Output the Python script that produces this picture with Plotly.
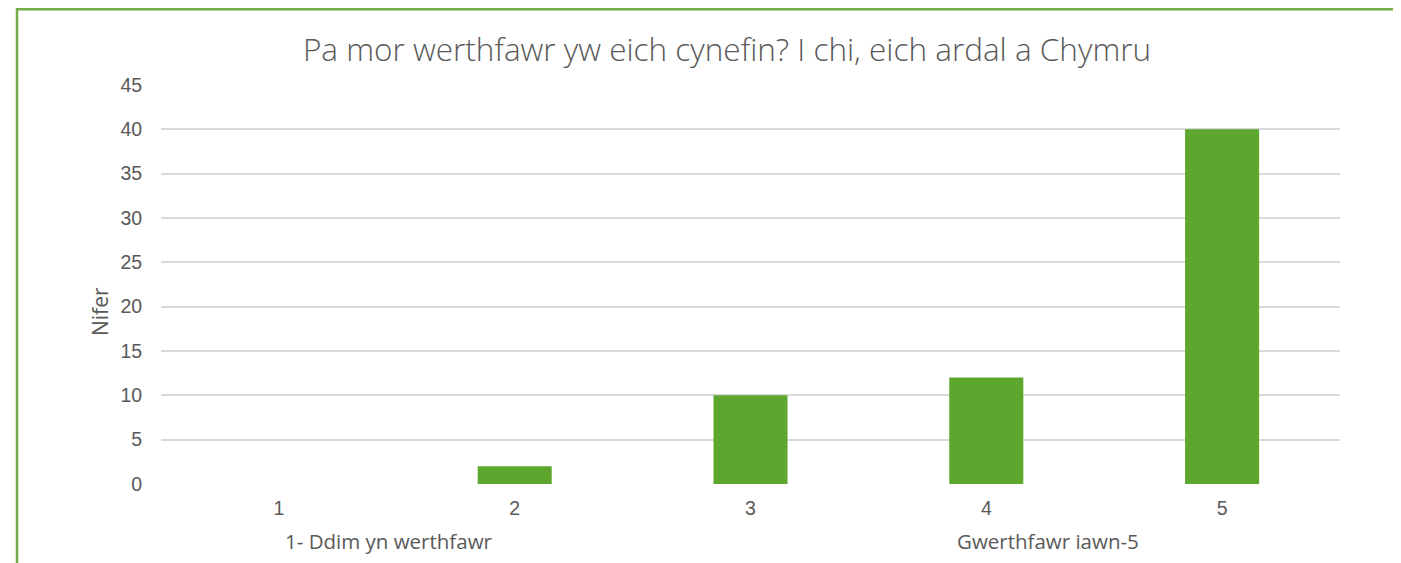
import plotly.graph_objects as go

categories = ["1", "2", "3", "4", "5"]
counts = [0, 2, 10, 12, 40]
y_ticks = [0, 5, 10, 15, 20, 25, 30, 35, 40, 45]
title_text = "Pa mor werthfawr yw eich cynefin? I chi, eich ardal a Chymru"
y_title = "Nifer"
low_label = "1- Ddim yn werthfawr"
high_label = "Gwerthfawr iawn-5"

OFF = 8  # page body margin
W, H = 1401 - OFF, 563 - OFF
L, R, T, B = 161 - OFF, 1340 - OFF, 85 - OFF, 484 - OFF
pw, ph = R - L, B - T

def px(x):
    return (x - OFF - L) / pw

def py(y):
    return (B - (y - OFF)) / ph

bar_color = "#5EA72E"
text_color = "#595959"

fig = go.Figure(go.Bar(x=categories, y=counts, marker=dict(color=bar_color, line=dict(width=0))))

fig.update_layout(
    width=W, height=H,
    margin=dict(l=L, r=W - R, t=T, b=H - B),
    paper_bgcolor="white", plot_bgcolor="white",
    bargap=0.686,
    showlegend=False,
    title=dict(text=title_text, x=(727 - OFF) / W, xanchor="center", y=1 - (50 - OFF) / H, yanchor="middle",
               font=dict(family="Open Sans", size=31.5, weight=300, color=text_color)),
    xaxis=dict(type="category", showgrid=False, showline=False, zeroline=False,
               tickfont=dict(family="Liberation Sans, Arial", size=19.5, color=text_color),
               ticks="outside", ticklen=7, tickcolor="rgba(0,0,0,0)"),
    yaxis=dict(range=[0, 45], tickvals=y_ticks, showgrid=True, gridcolor="#D9D9D9", gridwidth=1.5,
               zeroline=False, showline=False,
               tickfont=dict(family="Liberation Sans, Arial", size=19.5, color=text_color),
               ticks="outside", ticklen=14, tickcolor="rgba(0,0,0,0)"),
    shapes=[
        dict(type="line", xref="paper", yref="paper", x0=px(17), x1=px(17), y0=py(563), y1=py(8.5),
             line=dict(color="#70AD47", width=2.5)),
        dict(type="line", xref="paper", yref="paper", x0=px(16), x1=px(1401), y0=py(9.2), y1=py(9.2),
             line=dict(color="#70AD47", width=2.5)),
    ],
    annotations=[
        dict(text=y_title, xref="paper", yref="paper", x=px(100), y=py(312), showarrow=False, textangle=-90,
             xanchor="center", yanchor="middle", font=dict(family="Open Sans", size=21, color=text_color)),
        dict(text=low_label, xref="paper", yref="paper", x=px(389), y=py(541), showarrow=False,
             xanchor="center", yanchor="middle", font=dict(family="Open Sans", size=20.5, color=text_color)),
        dict(text=high_label, xref="paper", yref="paper", x=px(1048), y=py(541), showarrow=False,
             xanchor="center", yanchor="middle", font=dict(family="Open Sans", size=20.5, color=text_color)),
    ],
)

fig.write_html("out.html")
